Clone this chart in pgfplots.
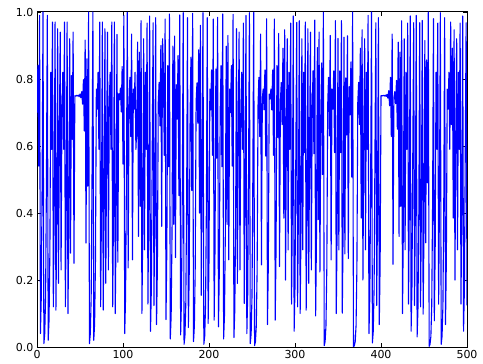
\documentclass[border=0pt]{standalone}
\usepackage{fontspec}
\setmainfont{DejaVu Sans}
\usepackage{pgfplots}
\pgfplotsset{compat=1.18}
\usetikzlibrary{calc}
\begin{document}
\begin{tikzpicture}
\begin{axis}[name=ax, scale only axis, width=430bp, height=335bp,
  xmin=0, xmax=500, ymin=0, ymax=1,
  xtick={0,100,200,300,400,500}, ytick={0,0.2,0.4,0.6,0.8,1.0},
  tick align=inside, major tick length=4bp,
  tick style={black, line width=0.8bp},
  axis line style={black, line width=1bp},
  ticklabel style={font=\fontsize{11bp}{13bp}\selectfont},
  /pgf/number format/assume math mode=true,
  yticklabel style={/pgf/number format/fixed, /pgf/number format/fixed zerofill, /pgf/number format/precision=1},
  xticklabel style={/pgf/number format/fixed, /pgf/number format/precision=0},
]
\addplot[color={rgb,1:red,0;green,0;blue,1}, line width=1.1bp, line join=round, no marks]
 table[row sep=\\, header=false, x expr=\coordindex, y index=0] {
0.70\\0.84\\0.54\\0.99\\0.04\\0.15\\0.51\\1.00\\0.01\\0.04\\
0.15\\0.51\\0.99\\0.02\\0.08\\0.29\\0.82\\0.59\\0.97\\0.12\\
0.42\\0.97\\0.11\\0.39\\0.95\\0.19\\0.62\\0.94\\0.23\\0.71\\
0.82\\0.59\\0.97\\0.12\\0.42\\0.97\\0.10\\0.36\\0.92\\0.28\\
0.81\\0.62\\0.94\\0.25\\0.75\\0.749\\0.751\\0.749\\0.752\\0.747\\
0.755\\0.744\\0.762\\0.725\\0.798\\0.645\\0.916\\0.31\\0.86\\0.48\\
1.00\\0.01\\0.04\\0.15\\0.51\\1.00\\0.02\\0.07\\0.26\\0.77\\
0.71\\0.82\\0.59\\0.97\\0.12\\0.42\\0.97\\0.11\\0.39\\0.95\\
0.19\\0.62\\0.94\\0.23\\0.71\\0.82\\0.59\\0.97\\0.12\\0.42\\
0.97\\0.10\\0.37\\0.933\\0.253\\0.756\\0.738\\0.773\\0.702\\0.837\\
0.546\\0.99\\0.04\\0.15\\0.51\\0.999\\0.236\\0.721\\0.805\\0.628\\
0.934\\0.26\\0.77\\0.71\\0.82\\0.59\\0.65\\0.91\\0.33\\0.88\\
0.42\\0.974\\0.10\\0.36\\0.92\\0.29\\0.82\\0.59\\0.967\\0.128\\
0.446\\0.988\\0.047\\0.18\\0.59\\0.968\\0.124\\0.434\\0.983\\0.067\\
0.24\\0.73\\0.79\\0.66\\0.90\\0.36\\0.92\\0.827\\0.572\\0.979\\
0.082\\0.30\\0.84\\0.538\\0.994\\0.024\\0.094\\0.34\\0.898\\0.366\\
0.928\\0.267\\0.783\\0.68\\0.87\\0.452\\0.991\\0.036\\0.139\\0.479\\
0.998\\0.008\\0.032\\0.124\\0.434\\0.983\\0.058\\0.219\\0.684\\0.865\\
0.467\\0.996\\0.016\\0.063\\0.24\\0.73\\0.788\\0.668\\0.887\\0.40\\
0.96\\0.154\\0.521\\0.998\\0.008\\0.032\\0.124\\0.434\\0.983\\0.07\\
0.26\\0.77\\0.708\\0.827\\0.572\\0.979\\0.08\\0.294\\0.83\\0.564\\
0.984\\0.06\\0.226\\0.70\\0.84\\0.538\\0.994\\0.024\\0.094\\0.34\\
0.898\\0.366\\0.93\\0.26\\0.77\\0.70\\0.84\\0.54\\0.993\\0.028\\
0.11\\0.39\\0.95\\0.19\\0.62\\0.94\\0.23\\0.71\\0.82\\0.59\\
0.967\\0.13\\0.45\\0.99\\0.04\\0.154\\0.52\\0.998\\0.01\\0.04\\
0.152\\0.516\\0.999\\0.004\\0.016\\0.063\\0.236\\0.721\\0.805\\0.628\\
0.934\\0.245\\0.74\\0.77\\0.708\\0.827\\0.57\\0.98\\0.067\\0.25\\
0.755\\0.74\\0.77\\0.708\\0.827\\0.572\\0.979\\0.08\\0.30\\0.84\\
0.626\\0.936\\0.24\\0.73\\0.79\\0.664\\0.892\\0.385\\0.947\\0.20\\
0.64\\0.92\\0.29\\0.82\\0.59\\0.967\\0.128\\0.446\\0.988\\0.047\\
0.179\\0.588\\0.969\\0.12\\0.42\\0.974\\0.10\\0.36\\0.92\\0.29\\
0.82\\0.58\\0.97\\0.11\\0.39\\0.95\\0.19\\0.62\\0.94\\0.23\\
0.71\\0.825\\0.577\\0.976\\0.093\\0.337\\0.894\\0.38\\0.94\\0.224\\
0.695\\0.848\\0.515\\0.999\\0.004\\0.016\\0.063\\0.236\\0.721\\0.805\\
0.63\\0.93\\0.26\\0.77\\0.71\\0.824\\0.58\\0.974\\0.10\\0.36\\
0.921\\0.29\\0.824\\0.58\\0.974\\0.101\\0.363\\0.925\\0.278\\0.803\\
0.633\\0.929\\0.264\\0.777\\0.693\\0.851\\0.507\\1.0\\0.001\\0.004\\
0.016\\0.064\\0.24\\0.73\\0.79\\0.664\\0.892\\0.385\\0.947\\0.20\\
0.64\\0.92\\0.29\\0.82\\0.59\\0.99\\0.04\\0.15\\0.51\\1.0\\
0.012\\0.047\\0.18\\0.59\\0.968\\0.124\\0.434\\0.983\\0.067\\0.25\\
0.750\\0.750\\0.750\\0.751\\0.749\\0.752\\0.748\\0.754\\0.743\\0.765\\
0.72\\0.805\\0.628\\0.934\\0.247\\0.744\\0.762\\0.726\\0.796\\0.65\\
0.91\\0.33\\0.88\\0.42\\0.974\\0.10\\0.36\\0.92\\0.29\\0.82\\
0.59\\0.967\\0.128\\0.446\\0.988\\0.047\\0.18\\0.59\\0.968\\0.124\\
0.434\\0.99\\0.03\\0.116\\0.41\\0.968\\0.12\\0.42\\0.975\\0.098\\
0.354\\0.915\\0.311\\0.857\\0.49\\1.0\\0.002\\0.008\\0.032\\0.124\\
0.43\\0.98\\0.078\\0.288\\0.82\\0.59\\0.967\\0.128\\0.446\\0.998\\
0.008\\0.032\\0.124\\0.434\\0.983\\0.067\\0.26\\0.77\\0.71\\0.82\\
0.59\\0.97\\0.664\\0.892\\0.385\\0.947\\0.20\\0.64\\0.92\\0.29\\
0.82\\0.59\\0.967\\0.128\\0.446\\0.988\\0.047\\0.18\\0.59\\0.968\\0.124\\
};
\end{axis}
\pgfresetboundingbox
\path ($(ax.south west)+(-37bp,-17bp)$) rectangle ($(ax.north east)+(16bp,12bp)$);
\end{tikzpicture}
\end{document}
